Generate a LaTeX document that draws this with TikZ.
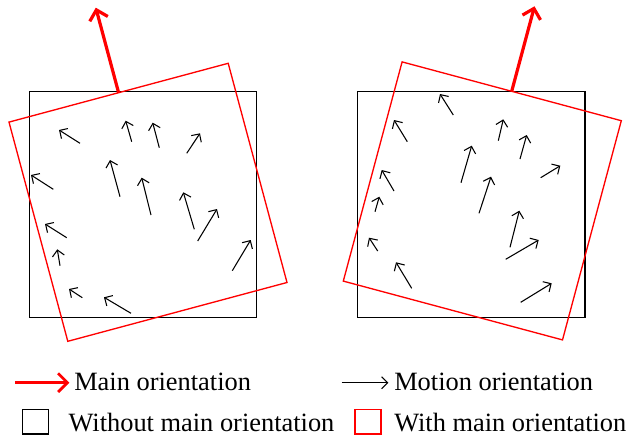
\documentclass[tikz,border=0pt]{standalone}
\usepackage{fontspec}
\setmainfont{Liberation Serif}
\usetikzlibrary{arrows.meta}
\tikzset{
  mainarrow/.style={draw=red, line width=2.4pt, -{Straight Barb[length=7pt,width=14pt]}},
  motionarrow/.style={draw=black, line width=0.8pt, -{Straight Barb[length=4.5pt,width=9pt]}},
  plainsq/.style={draw=black, line width=1.1pt},
  rotsq/.style={draw=red, line width=1pt},
  legtext/.style={anchor=base west, inner sep=0pt, font=\fontsize{19.8}{24}\selectfont},
}
\begin{document}
\begin{tikzpicture}[x=0.75pt,y=-0.75pt]
\useasboundingbox (0,0) rectangle (628,439);
% ---------- left panel ----------
\draw[plainsq] (29.5,91.5) rectangle (256.5,317.5);
\draw[rotsq] (9,122.1) -- (228.2,63.3) -- (287,282.5) -- (67.8,341.3) -- cycle;
\coordinate (LA) at (118.6,92.7);
\coordinate (LB) at (95.8,7.7);
\draw[mainarrow] (LA) -- (LB);
\foreach \xa/\ya/\xb/\yb in {
  80/143.3/59/130,
  131.7/141.7/125.7/120.7,
  159.3/147.7/152.7/122.7,
  186.7/153.3/200/133.3,
  53.3/189.3/31/175,
  120/196.7/110/160,
  151/215/141.7/177.7,
  194.3/229.3/183.3/192.3,
  197.7/241/217/209,
  66.7/237.7/45/224,
  60/265.7/57.3/249.3,
  232.3/270.7/250.7/240,
  82.3/297.7/69/289,
  131/313.3/104/297.3}
{\draw[motionarrow] (\xa,\ya) -- (\xb,\yb);}
% ---------- right panel ----------
\draw[plainsq] (357.5,91.5) rectangle (585,317.5);
\draw[rotsq] (402.1,61.9) -- (621.3,120.7) -- (562.5,339.9) -- (343.3,281.1) -- cycle;
\coordinate (RA) at (511.7,91.3);
\coordinate (RB) at (534.5,6.3);
\draw[mainarrow] (RA) -- (RB);
\foreach \xa/\ya/\xb/\yb in {
  453.3/115/440/94,
  407.3/141.7/394/120,
  498.3/140.7/503.3/119.3,
  520/159/526.7/135,
  540.7/177.7/560.3/165.7,
  461/182.7/471.7/145.7,
  394/191/381.7/170,
  479/213.3/491/176.7,
  375/211.7/379.3/196.7,
  510/247.3/519.3/210.7,
  505.7/259.3/538.7/240,
  377.7/251/369/237.7,
  411.7/288.3/396/262.3,
  520.7/302.3/551.7/283.3}
{\draw[motionarrow] (\xa,\ya) -- (\xb,\yb);}
% ---------- legend ----------
\coordinate (M1) at (15,382.7);
\coordinate (M2) at (69.3,382.7);
\draw[mainarrow, line width=2pt] (M1) -- (M2);
\node[legtext] (tmain) at (74,390.7) {Main orientation};
\coordinate (N1) at (341.7,382.7);
\coordinate (N2) at (388.3,382.7);
\draw[motionarrow] (N1) -- (N2);
\node[legtext] (tmotion) at (394,390.7) {Motion orientation};
\draw[plainsq, line width=1pt] (22.7,409.3) rectangle (48.3,434);
\node[legtext] (twithout) at (68.3,431.5) {Without main orientation};
\draw[rotsq] (355,409.3) rectangle (381,434);
\node[legtext] (twith) at (394,431.5) {With main orientation};
\end{tikzpicture}
\end{document}
